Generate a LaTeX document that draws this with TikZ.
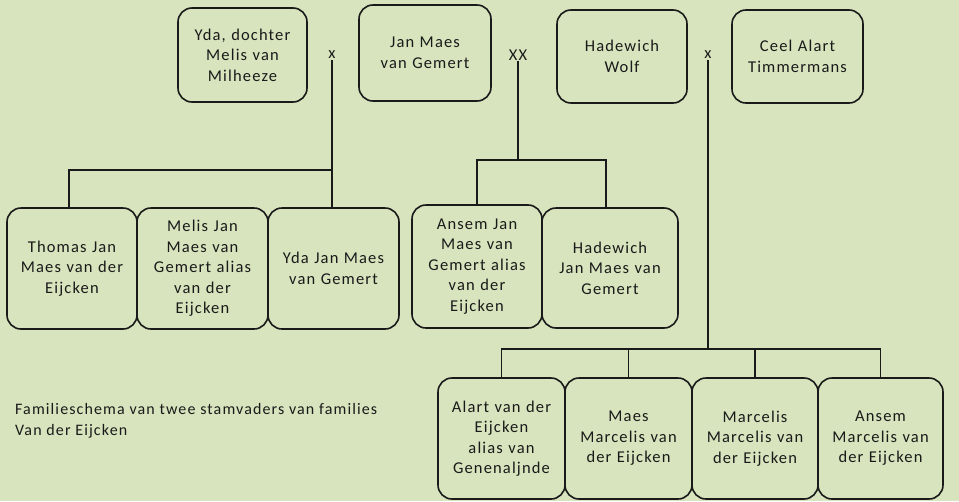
\documentclass[tikz,border=0pt]{standalone}
\usepackage{fontspec}
\setmainfont{Carlito}
\newfontfamily\boxfont{Carlito}[LetterSpace=7]
\definecolor{bg}{HTML}{D7E4BD}
\definecolor{ink}{HTML}{1A1A1A}
\begin{document}
\begin{tikzpicture}[x=1pt,y=-1pt,
  person/.style={draw=ink, line width=1.6pt, rounded corners=14pt, fill=bg,
    align=center, inner sep=2pt, font=\boxfont\fontsize{16.5}{20.5}\selectfont, text=ink},
  sym/.style={font=\boxfont\fontsize{16.5}{20.5}\selectfont, text=ink, inner sep=1pt},
  link/.style={draw=ink, line width=1.2pt}]
\useasboundingbox (0,0) rectangle (959,501);
\fill[bg] (0,0) rectangle (959,501);
% parents
\node[person, minimum width=129, minimum height=94, text width=122] (yda) at (242.5,55) {Yda, dochter\\Melis van\\Milheeze};
\node[person, minimum width=132, minimum height=96, text width=124] (jan) at (425,53) {Jan Maes\\van Gemert};
\node[person, minimum width=130, minimum height=93, text width=122] (hw) at (622,56.5) {Hadewich\\Wolf};
\node[person, minimum width=131, minimum height=93, text width=124] (ceel) at (797.5,56.5) {Ceel Alart\\Timmermans};
\node[sym] (x1) at (332,55) {x};
\node[sym] (xx) at (518,55) {XX};
\node[sym] (x2) at (708,55) {x};
% children row 1
\node[person, minimum width=130, minimum height=121, text width=122] (thomas) at (72,268.5) {Thomas Jan\\Maes van der\\Eijcken};
\node[person, minimum width=131, minimum height=121, text width=122] (melis) at (202.5,268.5) {Melis Jan\\Maes van\\Gemert alias\\van der\\Eijcken};
\node[person, minimum width=131, minimum height=121, text width=122] (ydaj) at (333.5,268.5) {Yda Jan Maes\\van Gemert};
\node[person, minimum width=130, minimum height=123, text width=122] (ansem) at (477,266.5) {Ansem Jan\\Maes van\\Gemert alias\\van der\\Eijcken};
\node[person, minimum width=136, minimum height=120, text width=128] (hadj) at (610,268) {Hadewich\\Jan Maes van\\Gemert};
% children row 2
\node[person, minimum width=127, minimum height=121, text width=120] (alart) at (501.5,438.5) {Alart van der\\Eijcken\\alias van\\Genenaljnde};
\node[person, minimum width=127, minimum height=121, text width=120] (maes) at (628.5,438.5) {Maes\\Marcelis van\\der Eijcken};
\node[person, minimum width=126, minimum height=121, text width=120] (marc) at (755,438.5) {Marcelis\\Marcelis van\\der Eijcken};
\node[person, minimum width=125, minimum height=121, text width=120] (ansem2) at (880.5,438.5) {Ansem\\Marcelis van\\der Eijcken};
% caption
\node[sym, anchor=west, align=left, font=\boxfont\fontsize{16}{21}\selectfont] (cap) at (14,421) {Familieschema van twee stamvaders van families\\Van der Eijcken};
% connectors
\coordinate (j1) at (332,170);
\coordinate (j2) at (518,160);
\coordinate (j3) at (705,349);
\draw[link] (x1.south) -- (x1 |- ydaj.north);
\draw[link] (j1) -| ([xshift=-3pt]thomas.north);
\draw[link] (xx.south) -- (j2);
\draw[link] (ansem.north) |- (j2) -| ([xshift=-4pt]hadj.north);
\draw[link] (x2.south) -- (x2 |- j3);
\draw[link] (alart.north) |- (j3) -| (ansem2.north);
\draw[link] (maes.north) -- (maes.north |- j3);
\draw[link] (marc.north) -- (marc.north |- j3);
\end{tikzpicture}
\end{document}
